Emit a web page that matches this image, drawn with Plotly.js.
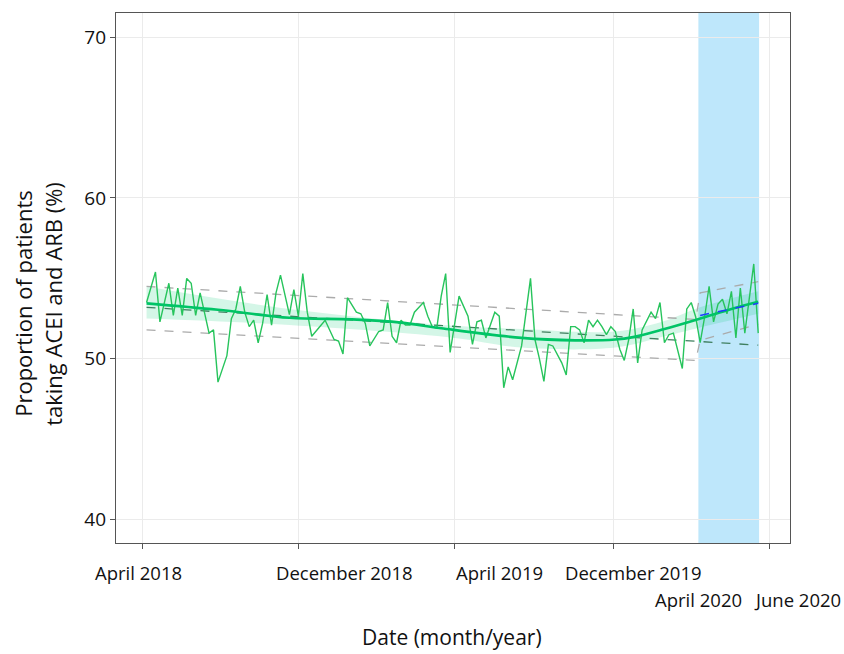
<!DOCTYPE html>
<html>
<head>
<meta charset="utf-8">
<script src="https://cdn.plot.ly/plotly-3.0.1.min.js"></script>
<style>html,body{margin:0;padding:0;background:#fff;}#chart{width:844px;height:654px;}</style>
</head>
<body>
<div id="chart"></div>
<script>
// Weekly observations (week index from April 2018)
const weeks = [1,3,4,6,7,8,9,10,11,12,13,14,15,16,17,19,20,21,22,23,24,25,26,27,28,29,30,31,33,34,35,36,37,38,41,43,44,45,46,48,49,50,51,53,54,55,56,57,58,59,60,61,63,64,65,66,67,68,69,71,73,74,75,76,77,79,80,81,82,83,85,87,88,89,90,91,92,94,95,96,97,98,99,100,101,102,103,104,105,106,107,108,109,110,111,112,114,115,116,117,118,119,121,122,123,124,125,126,127,128,129,130,131,132,133,134,135,137,138];
const proportion = [53.5,55.4,52.3,54.7,52.7,54.4,52.7,55.0,54.7,52.7,54.1,52.9,51.6,51.8,48.55,50.2,52.5,53.1,54.5,52.9,52.0,52.4,51.0,52.2,54.0,52.1,54.1,55.2,52.75,54.3,52.65,55.3,52.9,51.4,52.4,51.2,51.1,50.3,53.8,52.9,52.8,52.2,50.8,51.7,51.8,53.5,51.4,51.0,52.4,52.1,52.1,52.9,53.5,52.65,52.0,51.9,53.9,55.3,50.4,53.9,52.65,50.9,52.3,52.4,51.3,52.9,52.65,48.2,49.5,48.7,50.8,55.0,51.2,50.0,48.6,50.9,50.8,49.75,49.0,52.0,52.0,51.8,51.0,52.4,52.0,52.4,52.0,51.5,52.0,51.7,50.6,49.9,51.2,53.1,49.75,51.8,52.9,52.5,53.5,51.0,51.5,51.6,49.4,53.1,53.5,52.6,51.0,52.6,54.5,52.3,53.4,53.7,52.8,54.2,51.3,54.4,51.6,55.9,51.6];

// Smoothed trend and its confidence band
const smoothWeeks = [1,17,33,47,58,67,85,97,106,110,117,125,132,138];
const smoothVals  = [53.45,53.05,52.55,52.45,52.25,51.9,51.3,51.15,51.2,51.35,51.85,52.5,53.1,53.55];
const bandWeeks = [1,33,70,85,106,117,125,138];
const bandLow   = [52.5,52.1,51.3,50.7,50.7,51.4,51.95,52.8];
const bandHigh  = [54.5,53.1,52.05,51.85,51.7,52.35,53.2,54.2];

// Segmented regression lines
const limitWeeks = [1,124,125,138];
const upperLimit = [54.5,52.45,54.1,54.8];
const lowerLimit = [51.8,49.9,51.15,52.15];
const trendWeeks = [1,138];
const preTrend = [53.2,50.85];
const postWeeks = [125,138];
const postTrend = [52.7,53.45];

// Intervention period
const interventionStart = 124.6;
const interventionEnd = 138.2;

// Axis ticks
const tickWeeks = [0,35,70,105.5,140.6];
const tickLabels = ["April 2018","December 2018","April 2019","December 2019","April 2020","June 2020"];
const labelPos = [0.033,0.339,0.5685,0.768,0.8644,1.0105];
const labelRow = [0,0,0,0,1,1];

const font = "Open Sans, sans-serif";

const traces = [
  {x: bandWeeks, y: bandLow, mode:'lines', line:{width:0, shape:'spline'}, hoverinfo:'skip', showlegend:false},
  {x: bandWeeks, y: bandHigh, mode:'lines', line:{width:0, shape:'spline'}, fill:'tonexty', fillcolor:'rgba(0,200,110,0.17)', hoverinfo:'skip', showlegend:false},
  {x: limitWeeks, y: upperLimit, mode:'lines', line:{color:'#ababab', width:1.3, dash:'dash'}, showlegend:false},
  {x: limitWeeks, y: lowerLimit, mode:'lines', line:{color:'#ababab', width:1.3, dash:'dash'}, showlegend:false},
  {x: trendWeeks, y: preTrend, mode:'lines', line:{color:'#3f7f5f', width:1.3, dash:'dash'}, showlegend:false},
  {x: weeks, y: proportion, mode:'lines', line:{color:'#27c45c', width:1.4}, showlegend:false},
  {x: smoothWeeks, y: smoothVals, mode:'lines', line:{color:'#00c466', width:2.6, shape:'spline'}, showlegend:false},
  {x: postWeeks, y: postTrend, mode:'lines', line:{color:'#1f3cff', width:1.5, dash:'dash'}, showlegend:false}
];

const annotations = tickLabels.map((t,i)=>({
  text:t, xref:'paper', yref:'paper', x:labelPos[i], y: labelRow[i]===0 ? -0.0566 : -0.1075,
  xanchor:'center', yanchor:'middle', showarrow:false, font:{family:font, size:18.5, color:'#111'}
}));
annotations.push({text:'Date (month/year)', xref:'paper', yref:'paper', x:0.499, y:-0.178, xanchor:'center', yanchor:'middle', showarrow:false, font:{family:font, size:21, color:'#111'}});
annotations.push({text:'Proportion of patients', xref:'paper', yref:'paper', x:-0.1374, y:0.452, textangle:-90, xanchor:'center', yanchor:'middle', showarrow:false, font:{family:font, size:22, color:'#111'}});
annotations.push({text:'taking ACEI and ARB (%)', xref:'paper', yref:'paper', x:-0.0929, y:0.452, textangle:-90, xanchor:'center', yanchor:'middle', showarrow:false, font:{family:font, size:22, color:'#111'}});

const layout = {
  width:844, height:654,
  margin:{l:116, r:54, t:13, b:111, pad:0},
  paper_bgcolor:'#fff', plot_bgcolor:'#fff',
  showlegend:false,
  xaxis:{range:[-5.84,145.12], tickvals:tickWeeks, ticktext:tickWeeks.map(()=>''), showgrid:true, gridcolor:'#ebebeb', gridwidth:1,
         zeroline:false, showline:true, mirror:true, linecolor:'#555', linewidth:1.2, ticks:'outside', ticklen:5, tickcolor:'#555'},
  yaxis:{range:[38.55,71.5], tickvals:[40,50,60,70], showgrid:true, gridcolor:'#ebebeb', gridwidth:1,
         zeroline:false, showline:true, mirror:true, linecolor:'#555', linewidth:1.2, ticks:'outside', ticklen:5, tickcolor:'#555',
         tickfont:{family:font, size:19, color:'#111'}},
  shapes:[{type:'rect', xref:'x', yref:'paper', x0:interventionStart, x1:interventionEnd, y0:0, y1:1, fillcolor:'rgb(190,231,251)', line:{width:0}, layer:'between'}],
  annotations: annotations
};

Plotly.newPlot('chart', traces, layout, {displayModeBar:false, staticPlot:true});
</script>
</body>
</html>
